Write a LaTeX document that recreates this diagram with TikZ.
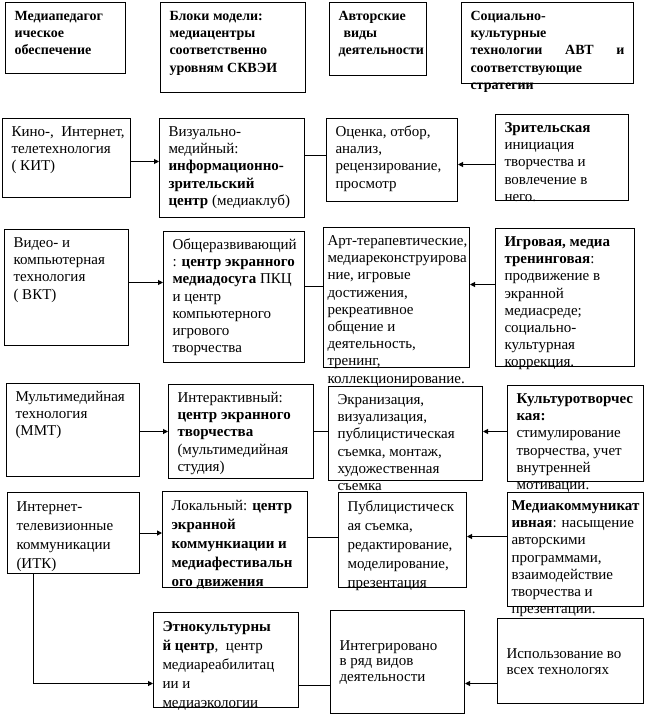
\documentclass[tikz,border=0pt]{standalone}
\usepackage{fontspec}
\setmainfont{Liberation Serif}
\usetikzlibrary{arrows.meta}

\newcommand\padx{9}
\newcommand\pady{6}
\newcommand\fs{\fontsize{15bp}{17.2bp}\selectfont}
\newcommand\fsh{\fontsize{14bp}{17.2bp}\selectfont}
\newcommand\fsl{\fontsize{15bp}{19bp}\selectfont}
\newcommand\fst{\fontsize{15bp}{15.5bp}\selectfont}
% text of one box: [inner pos]{box width}{box height}{lines}
\newcommand\cell[4][t]{\makebox[\dimexpr#2bp-\padx bp*2\relax][l]{%
    \parbox[t][\dimexpr#3bp-\pady bp*2\relax][#1]{300bp}{\strut#4}}}

\tikzset{
    blk/.style={draw, line width=1bp, anchor=north west,
        inner xsep=\padx bp, inner ysep=\pady bp, font=\fs},
    head/.style={blk, font=\fsh\bfseries},
    tight/.style={/utils/exec={\def\padx{4}}, inner xsep=4bp},
    loose/.style={font=\fsl},
    arr/.style={line width=1bp, -{Triangle[length=5bp,width=5bp]}},
    link/.style={line width=1bp}
}

\begin{document}
\begin{tikzpicture}[x=1bp, y=-1bp]
    \useasboundingbox (0,0) rectangle (645,715);

    % headers
    \node[head] (ped) at (5,2) {\cell{120}{71}{Медиапедагог\\ическое\\обеспечение}};
    \node[head] (blocks) at (160,2) {\cell{145}{90}{Блоки модели:\\медиацентры\\соответственно\\уровням СКВЭИ}};
    \node[head] (auth) at (329,2) {\cell{97}{73}{Авторские\\\hspace*{5bp}виды\\деятельности}};
    \node[head] (tech) at (461,2) {\cell{172}{81}{Социально-\\культурные\\\makebox[154bp][s]{технологии АВТ и}\\соответствующие\\стратегии}};

    % row 1
    \node[blk] (kit) at (2,118) {\cell{128}{79}{Кино-, \ Интернет,\\телетехнология\\( КИТ)}};
    \node[blk] (vis) at (159,118) {\cell{145}{99}{Визуально-\\медийный:\\\textbf{информационно-}\\\textbf{зрительский}\\\textbf{центр} (медиаклуб)}};
    \node[blk] (otsenka) at (326,118) {\cell{131}{83}{Оценка, отбор,\\анализ,\\рецензирование,\\просмотр}};
    \node[blk] (zrit) at (495,114) {\cell{133}{86}{\textbf{Зрительская}\\инициация\\творчества и\\вовлечение в\\него.}};

    % row 2
    \node[blk] (vkt) at (4,229) {\cell{124}{116}{Видео- и\\компьютерная\\технология\\( ВКТ)}};
    \node[blk] (obshch) at (163,231) {\cell{141}{131}{Общеразвивающий\\: \textbf{центр экранного}\\\textbf{медиадосуга} ПКЦ\\и центр\\компьютерного\\игрового\\творчества}};
    \node[blk, tight] (art) at (323,227) {\cell{146}{140}{Арт-терапевтические,\\медиареконструирова\\ние, игровые\\достижения,\\рекреативное\\общение и\\деятельность,\\тренинг,\\коллекционирование.}};
    \node[blk] (igra) at (495,228) {\cell{139}{138}{\textbf{Игровая, медиа}\\\textbf{тренинговая}:\\продвижение в\\экранной\\медиасреде;\\социально-\\культурная\\коррекция.}};

    % row 3
    \node[blk] (mmt) at (6,383) {\cell{133}{93}{Мультимедийная\\технология\\(ММТ)}};
    \node[blk] (inter) at (168,384) {\cell{145}{94}{Интерактивный:\\\textbf{центр экранного}\\\textbf{творчества}\\(мультимедийная\\студия)}};
    \node[blk] (ekran) at (328,386) {\cell{154}{94}{Экранизация,\\визуализация,\\публицистическая\\съемка, монтаж,\\художественная\\съемка}};
    \node[blk] (kult) at (507,385) {\cell{136}{96}{\textbf{Культуротворчес}\\\textbf{кая:}\\стимулирование\\творчества, учет\\внутренней\\мотивации.}};

    % row 4
    \node[blk, loose] (itk) at (7,492) {\cell{132}{81}{Интернет-\\телевизионные\\коммуникации\\(ИТК)}};
    \node[blk, loose] (lokal) at (162,491) {\cell{145}{96}{Локальный: \textbf{центр}\\\textbf{экранной}\\\textbf{коммункиации и}\\\textbf{медиафестивальн}\\\textbf{ого движения}}};
    \node[blk, loose] (publ) at (338,492) {\cell{128}{95}{Публицистическ\\ая съемка,\\редактирование,\\моделирование,\\презентация}};
    \node[blk, tight] (mkom) at (507,492) {\cell{136}{114}{\textbf{Медиакоммуникат}\\\textbf{ивная}: насыщение\\авторскими\\программами,\\взаимодействие\\творчества и\\презентации.}};

    % row 5
    \node[blk, loose] (etno) at (153,612) {\cell{145}{95}{\textbf{Этнокультурны}\\\textbf{й центр}, \ центр\\медиареабилитац\\ии и\\медиаэкологии}};
    \node[blk, font=\fst] (integr) at (330,610) {\cell[c]{134}{103}{Интегрировано\\в ряд видов\\деятельности}};
    \node[blk, font=\fst] (ispol) at (497,618) {\cell[c]{146}{85}{Использование во\\всех технологях}};

    % connectors
    \draw[arr] ([yshift=-3.5bp]kit.east) -- ([yshift=-3.5bp]kit.east -| vis.west);
    \draw[link] ([yshift=12.5bp]vis.east) -- ([yshift=12.5bp]vis.east -| otsenka.west);
    \draw[arr] ([yshift=-7bp]zrit.west) -- ([yshift=-7bp]zrit.west -| otsenka.east);

    \draw[arr] ([yshift=5bp]vkt.east) -- ([yshift=5bp]vkt.east -| obshch.west);
    \draw[link] ([yshift=10.5bp]obshch.east) -- ([yshift=10.5bp]obshch.east -| art.west);
    \draw[arr] ([yshift=13bp]igra.west) -- ([yshift=13bp]igra.west -| art.east);

    \draw[arr] ([yshift=-1.5bp]mmt.east) -- ([yshift=-1.5bp]mmt.east -| inter.west);
    \draw[link] (inter.east) -- (inter.east -| ekran.west);
    \draw[arr] ([yshift=2bp]kult.west) -- ([yshift=2bp]kult.west -| ekran.east);

    \draw[arr] (itk.east) -- (itk.east -| lokal.west);
    \draw[link] ([yshift=2bp]lokal.east) -- ([yshift=2bp]lokal.east -| publ.west);
    \draw[arr] ([yshift=13bp]mkom.west) -- ([yshift=13bp]mkom.west -| publ.east);

    \draw[arr] ([xshift=-40bp]itk.south) |- ([yshift=-23.5bp]etno.west);
    \draw[link] ([yshift=-25.5bp]etno.east) -- ([yshift=-25.5bp]etno.east -| integr.west);
    \draw[arr] ([yshift=-22.5bp]ispol.west) -- ([yshift=-22.5bp]ispol.west -| integr.east);
\end{tikzpicture}
\end{document}
